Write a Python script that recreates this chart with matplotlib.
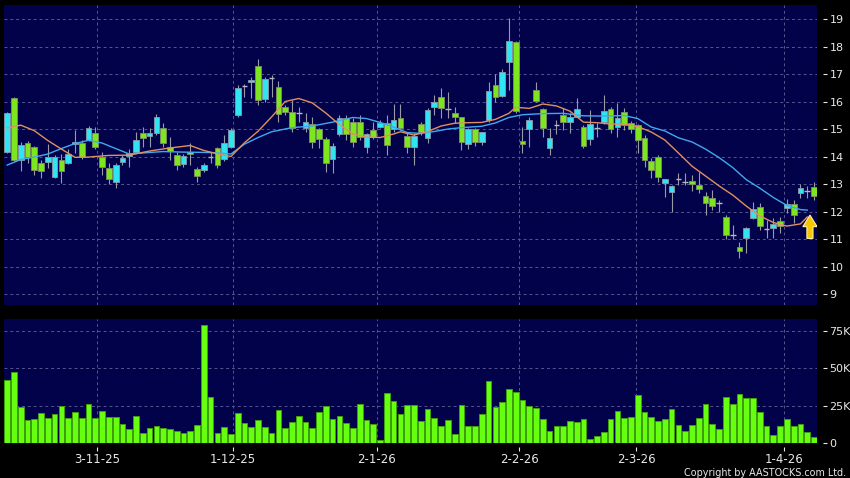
import matplotlib

matplotlib.use("Agg")
import matplotlib.pyplot as plt
import numpy as np
from matplotlib.patches import Polygon

# daily candles, oldest first
opens = [14.17, 16.12, 13.87, 14.48, 14.33, 13.75, 13.79, 13.27, 13.87, 13.77,
         14.44, 14.48, 14.60, 14.86, 13.99, 13.57, 13.08, 13.79, 14.03, 14.17,
         14.84, 14.76, 14.84, 15.02, 14.36, 14.06, 13.73, 14.17, 13.53, 13.51,
         13.99, 14.30, 13.90, 14.36, 15.51, 16.57, 16.70, 17.29, 16.08, 16.87,
         16.52, 15.79, 15.63, 15.58, 15.05, 15.17, 14.99, 14.63, 13.92, 14.81,
         15.39, 15.27, 15.27, 14.36, 14.96, 15.08, 15.21, 14.99, 15.39, 14.75,
         14.33, 15.18, 14.66, 15.79, 16.17, 15.73, 15.60, 15.42, 14.44, 14.99,
         14.52, 15.33, 16.59, 16.21, 17.44, 18.17, 14.57, 14.99, 16.42, 15.72,
         14.30, 15.15, 15.51, 15.24, 15.45, 15.08, 14.62, 15.03, 15.24, 15.73,
         15.06, 15.63, 15.23, 15.14, 14.66, 13.85, 13.97, 13.05, 12.72, 13.18,
         13.07, 13.11, 12.96, 12.57, 12.48, 12.30, 11.81, 11.15, 10.70, 11.02,
         11.78, 12.17, 11.38, 11.40, 11.64, 12.12, 12.26, 12.66, 12.74, 12.88]
highs = [15.62, 16.17, 14.54, 14.56, 14.38, 13.87, 14.45, 14.05, 14.09, 14.27,
         14.96, 14.60, 15.11, 15.08, 14.17, 13.76, 13.77, 14.05, 14.26, 14.90,
         15.08, 15.05, 15.55, 15.23, 14.72, 14.17, 14.09, 14.48, 13.63, 13.75,
         14.17, 14.36, 14.78, 15.05, 16.60, 16.64, 16.88, 17.53, 16.88, 16.96,
         16.75, 15.87, 16.05, 15.81, 15.57, 15.45, 15.05, 14.70, 14.48, 15.51,
         15.51, 15.40, 15.51, 14.87, 15.27, 15.33, 15.51, 15.91, 15.91, 14.90,
         14.84, 15.27, 15.75, 16.24, 16.48, 16.36, 15.81, 15.45, 15.02, 15.02,
         14.90, 16.70, 17.00, 17.17, 19.02, 18.20, 15.08, 15.45, 16.72, 15.75,
         15.02, 15.33, 15.75, 15.57, 16.12, 15.15, 15.69, 15.21, 16.24, 15.81,
         15.94, 15.75, 15.30, 15.20, 14.78, 13.93, 14.05, 13.20, 12.96, 13.39,
         13.39, 13.33, 13.45, 12.72, 12.78, 12.42, 11.87, 11.51, 10.90, 11.45,
         12.36, 12.30, 11.69, 11.75, 11.81, 12.44, 12.42, 13.00, 12.93, 13.06]
lows = [14.14, 13.85, 13.48, 13.76, 13.33, 13.22, 13.58, 13.22, 13.05, 13.72,
        14.13, 13.90, 14.55, 14.28, 13.33, 13.00, 12.84, 13.69, 13.63, 14.12,
        14.36, 14.36, 14.80, 14.36, 13.87, 13.50, 13.62, 13.69, 13.08, 13.45,
        13.75, 13.60, 13.85, 14.30, 15.45, 16.17, 16.12, 15.87, 15.99, 16.17,
        15.27, 15.51, 14.90, 15.27, 14.90, 14.30, 14.30, 13.45, 13.41, 14.75,
        14.60, 14.36, 14.60, 14.12, 14.65, 15.02, 14.05, 14.90, 14.96, 14.12,
        13.69, 14.80, 14.50, 15.51, 15.39, 15.39, 15.21, 14.24, 14.26, 14.40,
        14.42, 15.27, 15.99, 16.15, 16.42, 15.60, 14.12, 14.36, 15.99, 14.72,
        14.05, 14.82, 14.96, 14.84, 15.42, 14.30, 14.42, 14.72, 15.20, 14.84,
        14.72, 14.96, 14.84, 14.14, 13.63, 13.21, 13.08, 12.51, 11.99, 12.96,
        12.96, 12.76, 12.68, 11.87, 12.05, 11.99, 10.99, 10.99, 10.30, 10.48,
        11.72, 11.33, 11.05, 11.02, 11.21, 11.93, 11.59, 12.48, 12.48, 12.42]
closes = [15.57, 13.87, 14.42, 13.99, 13.51, 13.48, 13.97, 13.99, 13.48, 14.08,
          14.52, 13.99, 15.05, 14.33, 13.61, 13.18, 13.69, 13.96, 14.14, 14.60,
          14.66, 14.84, 15.42, 14.48, 14.21, 13.69, 14.02, 14.08, 13.29, 13.69,
          13.99, 13.69, 14.50, 14.96, 16.48, 16.57, 16.78, 16.05, 16.81, 16.87,
          15.55, 15.63, 15.02, 15.58, 15.27, 14.54, 14.63, 13.78, 14.38, 15.39,
          14.81, 14.54, 14.72, 14.81, 14.72, 15.21, 14.42, 15.33, 15.03, 14.33,
          14.75, 14.90, 15.69, 15.97, 15.75, 15.73, 15.42, 14.54, 14.99, 14.52,
          14.88, 16.40, 16.17, 17.06, 18.20, 15.66, 14.44, 15.33, 16.03, 15.02,
          14.66, 15.15, 15.24, 15.42, 15.73, 14.39, 15.18, 15.03, 15.66, 14.99,
          15.39, 15.15, 14.99, 14.60, 13.87, 13.51, 13.24, 13.18, 12.93, 13.18,
          13.07, 12.99, 12.81, 12.30, 12.20, 12.30, 11.13, 11.15, 10.55, 11.39,
          12.08, 11.47, 11.38, 11.56, 11.48, 12.26, 11.87, 12.84, 12.74, 12.55]
# volume in thousands of shares
volume_k = [42.2, 47.3, 24.0, 15.5, 16.0, 20.2, 17.1, 19.8, 24.9, 16.9,
            20.9, 16.9, 26.2, 16.9, 21.3, 17.3, 17.8, 12.6, 9.8, 18.0,
            6.7, 10.0, 11.5, 10.4, 9.3, 8.4, 7.1, 8.0, 12.0, 78.8,
            31.1, 6.9, 10.7, 6.0, 20.4, 13.5, 11.1, 15.5, 10.9, 6.7,
            22.2, 10.4, 14.0, 18.4, 14.4, 10.4, 20.6, 24.9, 16.0, 18.4,
            13.3, 10.2, 26.4, 15.3, 12.9, 2.2, 33.5, 28.0, 19.8, 25.5,
            25.7, 15.1, 23.1, 16.7, 11.8, 15.8, 6.4, 25.6, 11.8, 11.3,
            19.3, 41.6, 24.4, 27.8, 36.0, 34.4, 28.9, 24.9, 23.8, 16.0,
            8.4, 11.6, 11.6, 15.1, 14.0, 16.2, 3.1, 4.7, 7.8, 16.0,
            21.3, 16.9, 17.8, 32.4, 21.1, 17.3, 14.9, 16.2, 23.1, 12.2,
            8.2, 12.2, 16.7, 26.4, 12.7, 9.6, 30.7, 26.0, 32.7, 30.0,
            30.4, 20.7, 11.8, 5.8, 11.8, 16.0, 11.6, 12.9, 7.6, 4.0]

# moving averages, sampled at a subset of bars
ma_short_idx = [0, 2, 4, 6, 8, 10, 12, 15, 18, 21, 24, 27, 29, 31, 33, 35, 37, 39,
                41, 43, 45, 47, 49, 51, 53, 55, 57, 58, 60, 62, 64, 66, 68, 70, 72,
                74, 75, 77, 79, 81, 83, 85, 87, 89, 91, 93, 95, 97, 99, 101, 103,
                105, 107, 109, 111, 113, 115, 117, 118]
ma_short = [15.04, 15.14, 14.94, 14.58, 14.27, 13.97, 13.98, 14.04, 14.05, 14.20,
            14.31, 14.40, 14.22, 14.10, 14.00, 14.50, 14.92, 15.44, 16.00, 16.11,
            15.95, 15.58, 15.16, 14.82, 14.71, 14.69, 14.82, 14.90, 14.78, 14.91,
            15.11, 15.21, 15.23, 15.24, 15.35, 15.57, 15.79, 15.75, 15.91, 15.84,
            15.65, 15.25, 15.23, 15.18, 15.18, 15.09, 14.89, 14.60, 14.13, 13.65,
            13.29, 12.93, 12.60, 12.20, 11.84, 11.60, 11.47, 11.55, 11.80]
ma_long_idx = [0, 2, 4, 6, 8, 10, 12, 14, 16, 18, 20, 23, 26, 29, 31, 33, 35, 37,
               39, 42, 45, 48, 51, 53, 55, 57, 59, 61, 63, 65, 67, 70, 72, 74, 76,
               79, 82, 85, 88, 91, 93, 95, 97, 99, 101, 103, 105, 107, 109, 111,
               113, 115, 117, 118]
ma_long = [13.69, 13.89, 13.98, 14.09, 14.29, 14.47, 14.59, 14.49, 14.29, 14.09,
           14.13, 14.18, 14.16, 14.15, 14.13, 14.09, 14.45, 14.69, 14.90, 15.05,
           15.11, 15.25, 15.42, 15.38, 15.24, 15.07, 14.87, 14.84, 14.91, 15.00,
           15.05, 15.10, 15.22, 15.42, 15.52, 15.56, 15.57, 15.48, 15.47, 15.49,
           15.38, 15.07, 14.93, 14.68, 14.53, 14.27, 13.96, 13.60, 13.16, 12.85,
           12.51, 12.22, 12.07, 12.05]

date_labels = ["3-11-25", "1-12-25", "2-1-26", "2-2-26", "2-3-26", "1-4-26"]
price_ticks = [9, 10, 11, 12, 13, 14, 15, 16, 17, 18, 19]
vol_ticks = [0, 25, 50, 75]
vol_tick_labels = ["0", "25K", "50K", "75K"]
signal_bar = 118.4
signal_price = 11.87

# layout / style
W, H = 850, 478
BG = "#02024a"
GRID = "#55558f"
TXT = "#e8e8e8"
UP = "#30e4f2"
DOWN = "#7ee61e"
FLAT = "#b8b8b8"
date_pos = [13.2, 33.3, 54.5, 75.5, 92.8, 114.6]

o = np.array(opens)
c = np.array(closes)
hi = np.array(highs)
lo = np.array(lows)
idx = np.arange(len(o))

fig = plt.figure(figsize=(W / 100, H / 100), dpi=100, facecolor="black")
ax = fig.add_axes([4 / W, 1 - 305 / H, 813 / W, 300 / H])
axv = fig.add_axes([4 / W, 1 - 443.3 / H, 813 / W, 124.3 / H])

for a in (ax, axv):
    a.set_facecolor(BG)
    a.set_xlim(-0.47, 119.44)
    a.set_xticks(date_pos)
    a.grid(True, color=GRID, linestyle=(0, (3, 3)), linewidth=0.7)
    a.set_axisbelow(True)
    for s in a.spines.values():
        s.set_visible(False)
    a.yaxis.tick_right()
    a.spines["right"].set_position(("outward", 4))
    a.tick_params(axis="y", colors=TXT, labelcolor=TXT, length=3, width=0.8,
                  pad=2, labelsize=8)

# price panel
ax.set_ylim(8.60, 19.51)
ax.set_yticks(price_ticks)
ax.set_yticklabels([str(t) for t in price_ticks])
ax.tick_params(axis="x", length=0, labelbottom=False)

ax.vlines(idx, lo, hi, color="#9a9aa6", linewidth=0.8, zorder=2)
up = c > o
down = c < o
flat = c == o
ax.bar(idx[up], (c - o)[up], bottom=o[up], width=0.84, color=UP,
       edgecolor="#8c9aa8", linewidth=0.6, zorder=3)
ax.bar(idx[down], (o - c)[down], bottom=c[down], width=0.84, color=DOWN,
       edgecolor="#7e9060", linewidth=0.6, zorder=3)
ax.hlines(c[flat], idx[flat] - 0.42, idx[flat] + 0.42, color=FLAT,
          linewidth=1.0, zorder=3)

ax.plot(ma_long_idx, ma_long, color="#3fa9f0", linewidth=1.0, zorder=4)
ax.plot(ma_short_idx, ma_short, color="#e0905e", linewidth=1.0, zorder=4)

# buy-signal arrow below the short MA
hw, sw = 1.05, 0.45            # half widths in bars
hh, tot = 0.42, 0.85           # head height / total length in price units
x0, y0 = signal_bar, signal_price
arrow = Polygon([(x0, y0), (x0 + hw, y0 - hh), (x0 + sw, y0 - hh),
                 (x0 + sw, y0 - tot), (x0 - sw, y0 - tot), (x0 - sw, y0 - hh),
                 (x0 - hw, y0 - hh)], closed=True, facecolor="#f7c600",
                edgecolor="#fff3a0", linewidth=0.8, zorder=6)
ax.add_patch(arrow)

# volume panel
axv.set_ylim(0, 82.8)
axv.set_yticks(vol_ticks)
axv.set_yticklabels(vol_tick_labels)
axv.bar(idx, volume_k, width=0.84, color="#66ff10", edgecolor="#3f9e0c",
        linewidth=0.7, zorder=3)
axv.spines["bottom"].set_position(("outward", 3))
axv.set_xticklabels(date_labels)
axv.tick_params(axis="x", colors=TXT, labelcolor=TXT, length=3, width=0.8,
                pad=1, labelsize=8.5)

fig.text(846 / W, 1 - 477.5 / H, "Copyright by AASTOCKS.com Ltd.", color=TXT,
         fontsize=6.9, ha="right", va="bottom")

fig.savefig("out.png", dpi=100, facecolor="black")
